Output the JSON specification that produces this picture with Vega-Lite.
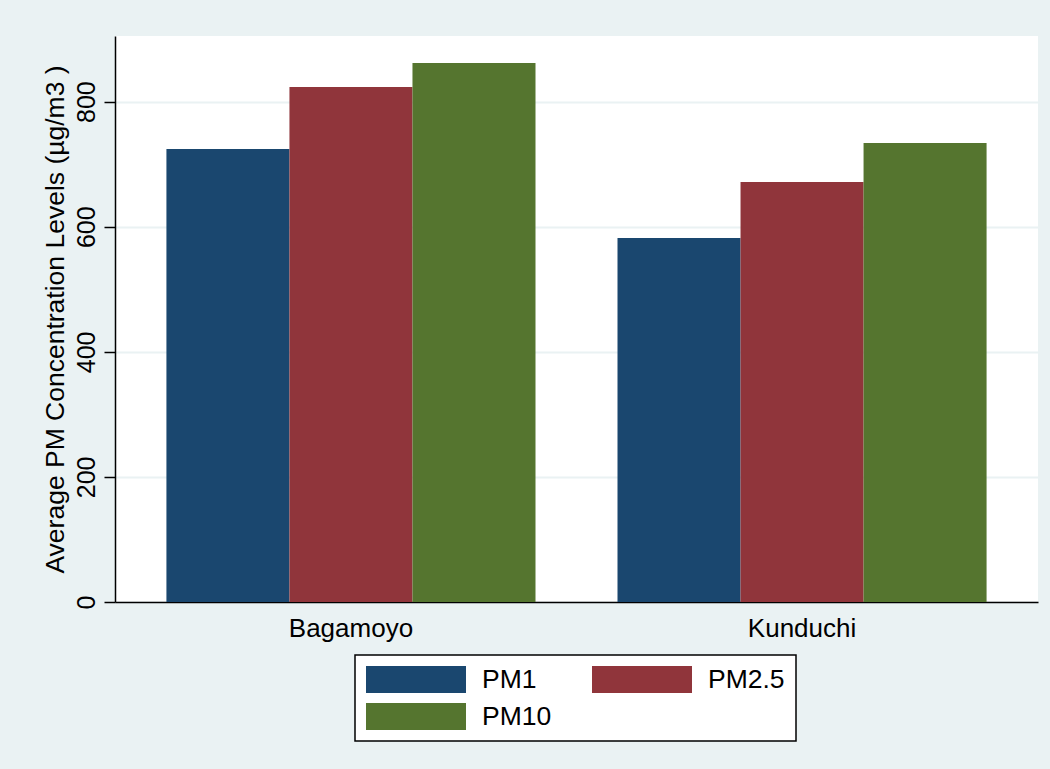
{
  "$schema": "https://vega.github.io/schema/vega-lite/v6.json",
  "width": 923,
  "height": 566,
  "autosize": {"type": "none"},
  "padding": {"left": 115, "top": 36, "right": 12, "bottom": 167},
  "background": "#EAF2F3",
  "config": {
    "font": "Liberation Sans",
    "view": {"fill": "white", "stroke": null},
    "axis": {"labelColor": "black", "titleColor": "black", "titleFontWeight": "normal", "domainColor": "black", "domainWidth": 1.5, "tickColor": "black", "tickWidth": 1.5}
  },
  "data": {
    "values": [
      {"site": "Bagamoyo", "pm": "PM1", "value": 724.3},
      {"site": "Bagamoyo", "pm": "PM2.5", "value": 823.5},
      {"site": "Bagamoyo", "pm": "PM10", "value": 861.9},
      {"site": "Kunduchi", "pm": "PM1", "value": 581.9},
      {"site": "Kunduchi", "pm": "PM2.5", "value": 671.5},
      {"site": "Kunduchi", "pm": "PM10", "value": 733.9}
    ]
  },
  "mark": {"type": "bar"},
  "encoding": {
    "x": {
      "field": "site",
      "type": "nominal",
      "scale": {"paddingInner": 0.1818, "paddingOuter": 0.114},
      "axis": {"title": null, "labelAngle": 0, "labelFontSize": 26, "ticks": false, "labelPadding": 13, "grid": false}
    },
    "xOffset": {
      "field": "pm",
      "type": "nominal",
      "sort": ["PM1", "PM2.5", "PM10"],
      "scale": {"paddingInner": 0, "paddingOuter": 0}
    },
    "y": {
      "field": "value",
      "type": "quantitative",
      "scale": {"domain": [0, 905], "nice": false},
      "axis": {
        "title": "Average PM Concentration Levels (µg/m3 )",
        "values": [0, 200, 400, 600, 800],
        "labelAngle": -90,
        "labelFontSize": 25,
        "titleFontSize": 26.5,
        "tickSize": 11,
        "labelPadding": 5,
        "titlePadding": 5,
        "gridColor": "#EAF2F3",
        "gridWidth": 2
      }
    },
    "color": {
      "field": "pm",
      "type": "nominal",
      "sort": ["PM1", "PM2.5", "PM10"],
      "scale": {"domain": ["PM1", "PM2.5", "PM10"], "range": ["#1A476F", "#90353B", "#55752F"]},
      "legend": {
        "orient": "none",
        "legendX": 240,
        "legendY": 619,
        "direction": "horizontal",
        "title": null,
        "columns": 2,
        "symbolType": "M-1,-1L6.4074,-1L6.4074,1L-1,1Z",
        "symbolSize": 729,
        "symbolStrokeWidth": 0,
        "symbolOpacity": 1,
        "labelFontSize": 26.5,
        "labelColor": "black",
        "labelOffset": 89,
        "columnPadding": 40,
        "rowPadding": 10,
        "padding": 11,
        "strokeColor": "black",
        "fillColor": "white",
        "encode": {"legend": {"update": {"strokeWidth": {"value": 1.5}}}}
      }
    }
  }
}
